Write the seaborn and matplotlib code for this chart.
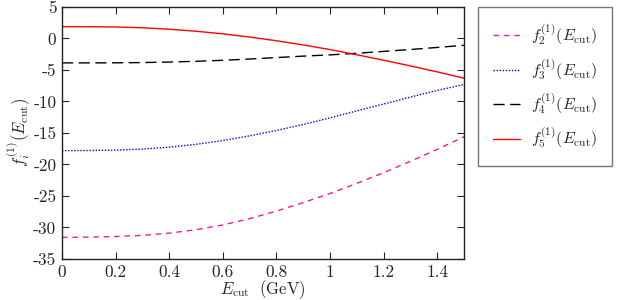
import pandas as pd
import seaborn as sns
import matplotlib.pyplot as plt

# values
e_cut = [0.0, 0.1, 0.2, 0.3, 0.4, 0.5, 0.6, 0.7, 0.8, 0.9, 1.0, 1.1, 1.2, 1.3, 1.4, 1.5]
f2 = [-31.57, -31.53, -31.44, -31.25, -30.9, -30.35, -29.6, -28.6, -27.4, -26.05, -24.6, -23.0, -21.3, -19.5, -17.6, -15.6]
f3 = [-17.8, -17.78, -17.72, -17.55, -17.25, -16.8, -16.2, -15.45, -14.6, -13.65, -12.6, -11.5, -10.4, -9.3, -8.25, -7.3]
f4 = [-3.87, -3.87, -3.86, -3.82, -3.74, -3.62, -3.46, -3.26, -3.03, -2.8, -2.6, -2.35, -2.05, -1.75, -1.42, -1.08]
f5 = [1.88, 1.87, 1.83, 1.7, 1.47, 1.15, 0.74, 0.23, -0.36, -1.02, -1.76, -2.58, -3.45, -4.35, -5.3, -6.3]

labels = [r'$f_{%d}^{(1)}(E_{\mathrm{cut}})$' % i for i in (2, 3, 4, 5)]

df = pd.concat([
    pd.DataFrame({'E': e_cut, 'f': vals, 'series': lab})
    for vals, lab in zip([f2, f3, f4, f5], labels)
])

sns.set_style('ticks')
plt.rcParams['mathtext.fontset'] = 'cm'
plt.rcParams['font.family'] = ['cmr10', 'DejaVu Serif']
plt.rcParams['font.size'] = 11

colors = dict(zip(labels, ['#ff1a8c', '#0000ff', '#000000', '#ff0000']))
dashes = dict(zip(labels, [(4, 3.5), (1, 1.2), (8, 4), '']))

fig = plt.figure(figsize=(6.17, 3.0), dpi=100)
ax = fig.add_axes([0.1005, 0.1367, 0.6515, 0.84])

sns.lineplot(data=df, x='E', y='f', hue='series', style='series',
             palette=colors, dashes=dashes, linewidth=1.0, ax=ax, legend=False)

ax.set_xlim(0, 1.5)
ax.set_ylim(-35, 5)
xt = [0, 0.2, 0.4, 0.6, 0.8, 1, 1.2, 1.4]
ax.set_xticks(xt)
ax.set_xticklabels(['%g' % v for v in xt], fontfamily='cmr10')
yt = list(range(-35, 6, 5))
ax.set_yticks(yt)
ax.set_yticklabels(['%d' % v for v in yt], fontfamily='cmr10')
ax.tick_params(direction='in', length=5, width=0.8, top=True, right=True, labelsize=12.5, pad=4)
for s in ax.spines.values():
    s.set_linewidth(1.0)
    s.set_color('#222222')

ax.set_xlabel(r'$E_{\mathrm{cut}}\ \ (\mathrm{GeV})$', fontsize=12, labelpad=-1)
ax.set_ylabel(r'$f_i^{(1)}(E_{\mathrm{cut}})$', fontsize=12, labelpad=0)

handles = []
for lab in labels:
    d = dashes[lab]
    ls = '-' if d == '' else (0, d)
    h, = ax.plot([], [], color=colors[lab], linestyle=ls, linewidth=1.0)
    handles.append(h)

leg = fig.legend(handles, labels, loc='upper left', bbox_to_anchor=(0.7747, 0.9767),
                 frameon=True, fancybox=False, edgecolor='#555555', fontsize=11.5,
                 handlelength=1.7, handletextpad=0.65, labelspacing=0.6,
                 borderpad=0.95, borderaxespad=0)
leg.get_frame().set_linewidth(1.0)

fig.savefig('out.png', dpi=100)
